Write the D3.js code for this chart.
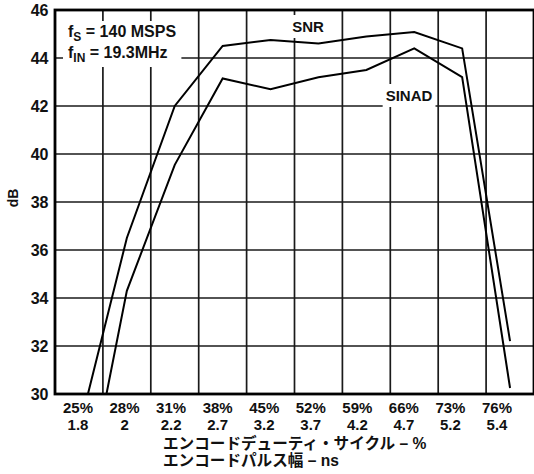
<!DOCTYPE html>
<html>
<head>
<meta charset="utf-8">
<script src="https://cdn.jsdelivr.net/npm/d3@7"></script>
<style>
  html, body { margin: 0; padding: 0; background: #fff; }
  svg { display: block; }
  text { font-family: "Liberation Sans", Arial, sans-serif; font-weight: bold; fill: #111; }
  .jp { font-family: "Liberation Sans", "Noto Sans CJK JP", sans-serif; font-weight: bold; }
</style>
</head>
<body>
<svg id="chart" width="534" height="474"></svg>
<script>
const dutyLabels = ["25%", "28%", "31%", "38%", "45%", "52%", "59%", "66%", "73%", "76%"];
const pulseLabels = ["1.8", "2", "2.2", "2.7", "3.2", "3.7", "4.2", "4.7", "5.2", "5.4"];
const snrValues = [28.5, 36.5, 42.0, 44.5, 44.75, 44.6, 44.9, 45.08, 44.4, 32.2];
const sinadValues = [24.2, 34.3, 39.55, 43.15, 42.7, 43.2, 43.5, 44.4, 43.2, 30.25];
const yTicks = [30, 32, 34, 36, 38, 40, 42, 44, 46];

(function () {
const svg = d3.select("#chart");
const pLeft = 55, pRight = 534, pTop = 10, pBottom = 394;

const x = d3.scaleLinear().domain([-0.5, 9.5]).range([pLeft, pRight]);
const y = d3.scaleLinear().domain([30, 46]).range([pBottom, pTop]);
const labelX = d3.scalePoint().domain(d3.range(dutyLabels.length)).range([78, 497]);

svg.append("defs").append("clipPath").attr("id", "plotclip")
  .append("rect").attr("x", pLeft).attr("y", pTop).attr("width", pRight - pLeft).attr("height", pBottom - pTop);

// grid
const grid = svg.append("g");
grid.selectAll("line.v").data(d3.range(1, 10)).join("line")
  .attr("class", "v")
  .attr("x1", d => x(d - 0.5)).attr("x2", d => x(d - 0.5))
  .attr("y1", pTop).attr("y2", pBottom)
  .attr("stroke", "#1a1a1a").attr("stroke-width", 1.7);
grid.selectAll("line.h").data(yTicks.slice(1, -1)).join("line")
  .attr("class", "h")
  .attr("x1", pLeft).attr("x2", pRight)
  .attr("y1", d => y(d)).attr("y2", d => y(d))
  .attr("stroke", "#1a1a1a").attr("stroke-width", 1.7);

// label boxes (white backgrounds)
const boxes = svg.append("g");

// curves
const line = d3.line().x((d, i) => x(i)).y(d => y(d));
const curves = svg.append("g").attr("clip-path", "url(#plotclip)");
[snrValues, sinadValues].forEach(vals => {
  curves.append("path").datum(vals).attr("d", line)
    .attr("fill", "none").attr("stroke", "#000").attr("stroke-width", 2)
    .attr("stroke-linejoin", "miter");
});

// border
svg.append("rect").attr("x", pLeft).attr("y", pTop).attr("width", pRight - pLeft).attr("height", pBottom - pTop)
  .attr("fill", "none").attr("stroke", "#000").attr("stroke-width", 2.8);

// y axis labels
svg.append("g").selectAll("text").data(yTicks).join("text")
  .attr("x", 48.5).attr("y", d => y(d)).attr("dy", "0.36em")
  .attr("text-anchor", "end").attr("font-size", 16).text(d => d);

// y title
svg.append("text").attr("transform", "translate(18,198) rotate(-90)")
  .attr("text-anchor", "middle").attr("font-size", 14).text("dB");

// x labels
svg.append("g").selectAll("text").data(dutyLabels).join("text")
  .attr("x", (d, i) => labelX(i)).attr("y", 413)
  .attr("text-anchor", "middle").attr("font-size", 15).text(d => d);
svg.append("g").selectAll("text").data(pulseLabels).join("text")
  .attr("x", (d, i) => labelX(i)).attr("y", 430)
  .attr("text-anchor", "middle").attr("font-size", 15).text(d => d);

svg.append("text").attr("class", "jp").attr("x", 163).attr("y", 448.5)
  .attr("font-size", 15.6).text("エンコードデューティ・サイクル – %");
svg.append("text").attr("class", "jp").attr("x", 163).attr("y", 466)
  .attr("font-size", 15.6).text("エンコードパルス幅 – ns");

// annotations
function addBox(node, padX, padY) {
  const b = node.getBBox();
  boxes.append("rect").attr("x", b.x - padX).attr("y", b.y - padY)
    .attr("width", b.width + 2 * padX).attr("height", b.height + 2 * padY).attr("fill", "#fff");
}

const ann = svg.append("g");
const t1 = ann.append("text").attr("x", 68).attr("y", 37).attr("font-size", 16);
t1.append("tspan").text("f");
t1.append("tspan").attr("font-size", 12).attr("dy", 4).text("S");
t1.append("tspan").attr("dy", -4).text(" = 140 MSPS");
const t2 = ann.append("text").attr("x", 68).attr("y", 58).attr("font-size", 16);
t2.append("tspan").text("f");
t2.append("tspan").attr("font-size", 12).attr("dy", 4).text("IN");
t2.append("tspan").attr("dy", -4).text(" = 19.3MHz");
addBox(ann.node(), 5, 2);

const snrLabel = svg.append("text").attr("x", 308).attr("y", 32).attr("text-anchor", "middle")
  .attr("font-size", 15).text("SNR");
addBox(snrLabel.node(), 3, 3);
const sinadLabel = svg.append("text").attr("x", 409).attr("y", 101).attr("text-anchor", "middle")
  .attr("font-size", 15).text("SINAD");
addBox(sinadLabel.node(), 3, 3);
})();
</script>
</body>
</html>
